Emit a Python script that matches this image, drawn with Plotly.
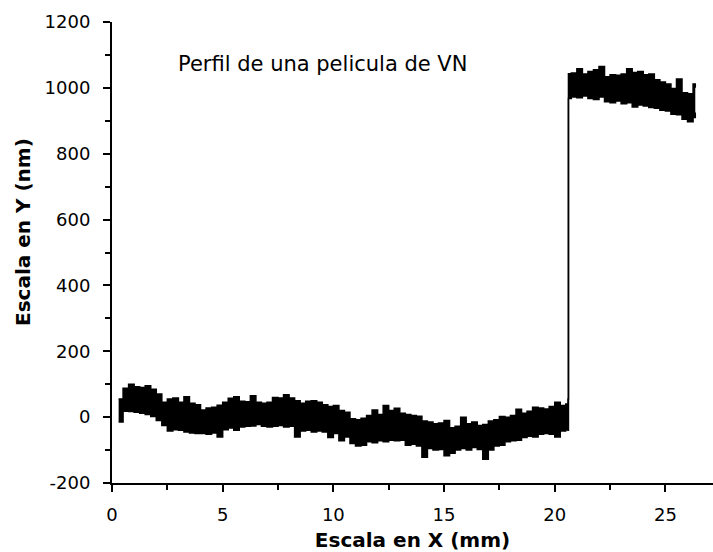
import plotly.graph_objects as go

# Profile of a VN film: position along scan (mm) with upper / lower edges of the
# noisy trace (nm).
x_mm = [
    0.3, 0.5, 0.75, 1.0, 1.25, 1.5, 1.75, 2.0, 2.25, 2.5,
    2.75, 3.0, 3.25, 3.5, 3.75, 4.0, 4.25, 4.5, 4.75, 5.0,
    5.25, 5.5, 5.75, 6.0, 6.25, 6.5, 6.75, 7.0, 7.25, 7.5,
    7.75, 8.0, 8.25, 8.5, 8.75, 9.0, 9.25, 9.5, 9.75, 10.0,
    10.25, 10.5, 10.75, 11.0, 11.25, 11.5, 11.75, 12.0, 12.25, 12.5,
    12.75, 13.0, 13.25, 13.5, 13.75, 14.0, 14.25, 14.5, 14.75, 15.0,
    15.25, 15.5, 15.75, 16.0, 16.25, 16.5, 16.75, 17.0, 17.25, 17.5,
    17.75, 18.0, 18.25, 18.5, 18.75, 19.0, 19.25, 19.5, 19.75, 20.0,
    20.25, 20.5, 20.6,
    20.62, 20.75, 21.0, 21.25, 21.5, 21.75, 22.0, 22.25, 22.5, 22.75,
    23.0, 23.25, 23.5, 23.75, 24.0, 24.25, 24.5, 24.75, 25.0, 25.25,
    25.5, 25.75, 26.0, 26.25, 26.35,
]
upper_nm = [
    55, 88, 100, 92, 90, 95, 85, 70, 45, 55,
    58, 45, 62, 42, 38, 22, 28, 30, 36, 45,
    57, 62, 48, 47, 65, 45, 42, 45, 60, 58,
    68, 58, 50, 42, 48, 50, 45, 38, 32, 35,
    20, 15, -5, -8, -3, 5, 22, 8, 35, 20,
    27, 12, 8, 5, 3, -12, -15, -20, -18, -10,
    -32, -28, 0, -20, -15, -25, -22, -12, -8, 2,
    0, 5, 24, 12, 18, 30, 28, 25, 32, 45,
    35, 40, 55,
    1043, 1045, 1058, 1042, 1050, 1055, 1065, 1034, 1040, 1038,
    1042, 1058, 1047, 1050, 1040, 1042, 1025, 1018, 1012, 998,
    1027, 985, 982, 1012, 1000,
]
lower_nm = [
    -15, 18, 17, 15, 12, 8, 2, -10, -25, -42,
    -38, -40, -45, -48, -50, -50, -52, -48, -60, -38,
    -33, -40, -30, -28, -27, -22, -28, -30, -28, -25,
    -30, -28, -60, -42, -40, -45, -42, -45, -62, -50,
    -72, -60, -80, -88, -85, -75, -78, -72, -75, -70,
    -72, -70, -85, -82, -88, -122, -95, -100, -98, -117,
    -110, -100, -95, -100, -92, -98, -128, -100, -88, -85,
    -75, -72, -70, -62, -58, -60, -52, -50, -52, -60,
    -42, -38, -40,
    968, 972, 970, 975, 968, 965, 972, 958, 955, 960,
    952, 955, 942, 948, 945, 940, 938, 932, 930, 920,
    918, 905, 897, 910, 925,
]

x_ticks = [0, 5, 10, 15, 20, 25]
y_ticks = [-200, 0, 200, 400, 600, 800, 1000, 1200]

fig = go.Figure()
fig.add_trace(go.Scatter(
    x=x_mm, y=lower_nm, mode="lines", line=dict(color="black", width=1.5, shape="hv"),
    showlegend=False, hoverinfo="skip"))
fig.add_trace(go.Scatter(
    x=x_mm, y=upper_nm, mode="lines", line=dict(color="black", width=1.5, shape="hv"),
    fill="tonexty", fillcolor="black", showlegend=False, hoverinfo="skip"))

tick_font = dict(family="DejaVu Sans", size=18, color="black")
fig.update_layout(
    width=713, height=552,
    margin=dict(l=112, r=0, t=22, b=69),
    paper_bgcolor="white", plot_bgcolor="white",
    xaxis=dict(
        range=[0, 27.15], tickvals=x_ticks, ticktext=[str(v) for v in x_ticks],
        showline=True, linecolor="black", linewidth=2, ticks="outside", ticklen=7,
        tickwidth=2, tickcolor="black", showgrid=False, zeroline=False,
        tickfont=tick_font, ticklabelstandoff=7,
        minor=dict(ticks="outside", ticklen=5, tickwidth=2, tickcolor="black", dtick=2.5, tick0=0, showgrid=False),
        title=dict(text="<b>Escala en X (mm)</b>", font=dict(family="DejaVu Sans", size=20, color="black"), standoff=12),
    ),
    yaxis=dict(
        range=[-200, 1200], tickvals=y_ticks, ticktext=[str(v) for v in y_ticks],
        showline=True, linecolor="black", linewidth=2, ticks="outside", ticklen=7,
        tickwidth=2, tickcolor="black", showgrid=False, zeroline=False,
        tickfont=tick_font, ticklabelstandoff=9,
        minor=dict(ticks="outside", ticklen=5, tickwidth=2, tickcolor="black", dtick=100, tick0=0, showgrid=False),
    ),
    annotations=[
        dict(text="Perfil de una pelicula de VN", xref="paper", yref="paper",
             x=(322 - 112) / 601, y=(483 - 64) / 461, xanchor="center", yanchor="middle",
             showarrow=False, font=dict(family="DejaVu Sans", size=21, color="black")),
        dict(text="<b>Escala en Y (nm)</b>", xref="paper", yref="paper",
             x=(23 - 112) / 601, y=(483 - 232) / 461, xanchor="center", yanchor="middle",
             textangle=-90, showarrow=False,
             font=dict(family="DejaVu Sans", size=20, color="black")),
    ],
)

fig.write_html("out.html")
